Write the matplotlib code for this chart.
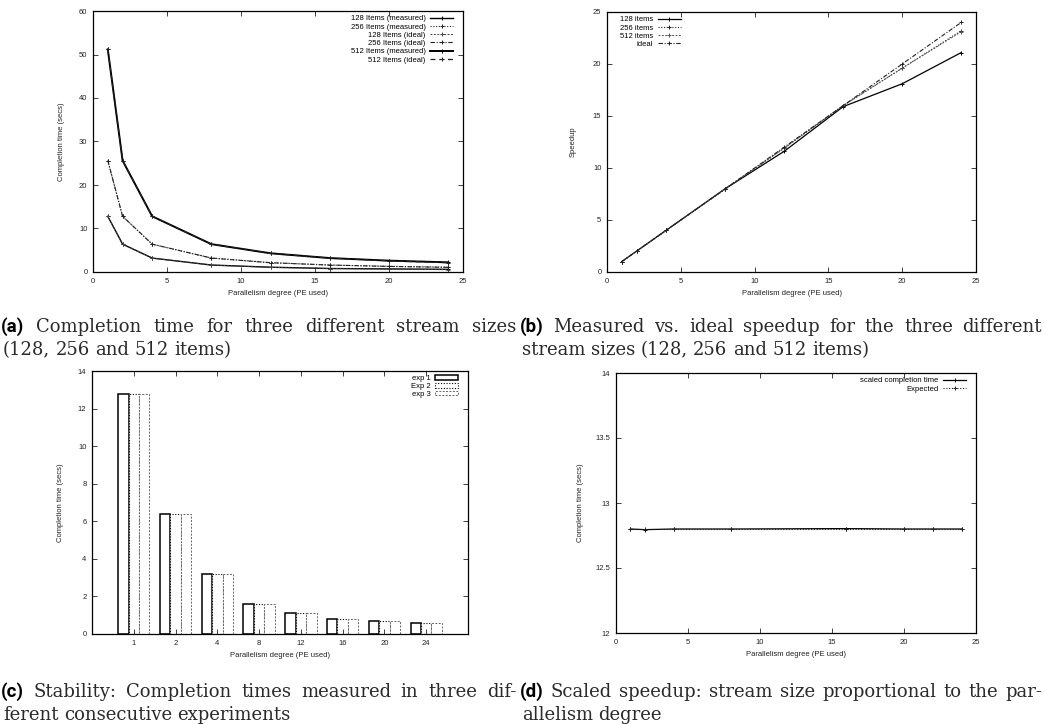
import matplotlib
matplotlib.use("Agg")
import matplotlib.pyplot as plt
from matplotlib.transforms import IdentityTransform
from matplotlib.ticker import FormatStrFormatter

# ---- data -------------------------------------------------------------
pe = [1, 2, 4, 8, 12, 16, 20, 24]

time_128_meas = [12.8, 6.4, 3.2, 1.6, 1.10, 0.80, 0.71, 0.61]
time_256_meas = [25.6, 12.8, 6.4, 3.22, 2.15, 1.60, 1.31, 1.10]
time_512_meas = [51.2, 25.6, 12.8, 6.4, 4.3, 3.2, 2.61, 2.22]
time_128_ideal = [12.8, 6.4, 3.2, 1.6, 1.07, 0.8, 0.64, 0.53]
time_256_ideal = [25.6, 12.8, 6.4, 3.2, 2.13, 1.6, 1.28, 1.07]
time_512_ideal = [51.2, 25.6, 12.8, 6.4, 4.27, 3.2, 2.56, 2.13]

speedup_128 = [1, 2, 4, 8, 11.6, 15.9, 18.1, 21.1]
speedup_256 = [1, 2, 4, 7.95, 11.9, 16.0, 19.6, 23.2]
speedup_512 = [1, 2, 4, 8, 11.9, 16.0, 19.6, 23.1]
speedup_ideal = [1, 2, 4, 8, 12, 16, 20, 24]

exp_labels = ["1", "2", "4", "8", "12", "16", "20", "24"]
exp1 = [12.8, 6.4, 3.2, 1.6, 1.1, 0.8, 0.7, 0.6]
exp2 = [12.8, 6.4, 3.2, 1.6, 1.1, 0.8, 0.7, 0.6]
exp3 = [12.8, 6.4, 3.2, 1.6, 1.1, 0.8, 0.7, 0.6]

pe_scaled = [1, 2, 4, 8, 16, 20, 22, 24]
scaled_time = [12.8, 12.795, 12.8, 12.8, 12.803, 12.8, 12.8, 12.8]
expected_time = [12.8, 12.8, 12.8, 12.8, 12.8, 12.8, 12.8, 12.8]

# ---- style ------------------------------------------------------------
plt.rcParams['font.family'] = ['Liberation Sans', 'DejaVu Sans']
plt.rcParams['font.size'] = 5.5
FS = 5.5

W, H = 1045, 724
fig = plt.figure(figsize=(W / 100, H / 100), dpi=100)


def px_axes(x0, y0, x1, y1):
    return fig.add_axes([x0 / W, 1 - y1 / H, (x1 - x0) / W, (y1 - y0) / H])


def gnuplot_style(ax):
    for s in ax.spines.values():
        s.set_linewidth(0.9)
        s.set_color('black')
    ax.tick_params(direction='in', top=True, right=True, length=3.5, width=0.6,
                   labelsize=FS, pad=4, colors='#222')


def legend(ax, loc, anchor, **kw):
    leg = ax.legend(loc=loc, bbox_to_anchor=anchor, frameon=False, fontsize=FS,
                    markerfirst=False, handlelength=3.0, handletextpad=0.6,
                    labelspacing=0.12, borderpad=0, borderaxespad=0, **kw)
    return leg


mk = dict(marker='+', markersize=3.3, markeredgewidth=0.7)

# ---- (a) completion time ---------------------------------------------
ax = px_axes(93, 11, 463, 272)
ax.plot(pe, time_128_meas, color='black', lw=1.0, label='128 Items (measured)', **mk)
ax.plot(pe, time_256_meas, color='#222', lw=0.8, ls=(0, (1, 1.5)), label='256 Items (measured)', **mk)
ax.plot(pe, time_128_ideal, color='#444', lw=0.7, ls=(0, (2, 1.5)), label='128 Items (ideal)', **mk)
ax.plot(pe, time_256_ideal, color='#222', lw=0.8, ls=(0, (4, 1.5, 1, 1.5)), label='256 Items (ideal)', **mk)
ax.plot(pe, time_512_meas, color='black', lw=1.4, label='512 Items (measured)', **mk)
ax.plot(pe, time_512_ideal, color='#222', lw=0.9, ls=(0, (4, 3)), label='512 Items (ideal)', **mk)
ax.set_xlim(0, 25)
ax.set_ylim(0, 60)
ax.set_xticks(range(0, 26, 5))
ax.set_yticks(range(0, 61, 10))
ax.set_xlabel('Parallelism degree (PE used)', fontsize=FS, labelpad=4, color='#222')
ax.set_ylabel('Completion time (secs)', fontsize=FS, labelpad=10, color='#222')
gnuplot_style(ax)
legend(ax, 'upper right', (1 - 10 / 370, 1 - 4 / 261))

# ---- (b) speedup ------------------------------------------------------
ax = px_axes(607, 12, 976, 272)
ax.plot(pe, speedup_128, color='black', lw=0.9, label='128 items', **mk)
ax.plot(pe, speedup_256, color='#222', lw=0.8, ls=(0, (1, 1.5)), label='256 items', **mk)
ax.plot(pe, speedup_512, color='#555', lw=0.7, ls=(0, (2, 1.5)), label='512 items', **mk)
ax.plot(pe, speedup_ideal, color='#222', lw=0.8, ls=(0, (4, 1.5, 1, 1.5)), label='ideal', **mk)
ax.set_xlim(0, 25)
ax.set_ylim(0, 25)
ax.set_xticks(range(0, 26, 5))
ax.set_yticks(range(0, 26, 5))
ax.set_xlabel('Parallelism degree (PE used)', fontsize=FS, labelpad=4, color='#222')
ax.set_ylabel('Speedup', fontsize=FS, labelpad=12, color='#222')
gnuplot_style(ax)
legend(ax, 'upper left', (13 / 369, 1 - 4 / 260))

# ---- (c) stability bars -----------------------------------------------
ax = px_axes(92, 371, 468, 634)
pos = list(range(1, len(exp_labels) + 1))
bw = 0.25
ax.bar([p - bw for p in pos], exp1, width=bw, facecolor='white', edgecolor='black',
       lw=1.1, label='exp 1')
ax.bar(pos, exp2, width=bw, facecolor='white', edgecolor='black',
       lw=0.8, ls=(0, (1, 1.5)), label='Exp 2')
ax.bar([p + bw for p in pos], exp3, width=bw, facecolor='white', edgecolor='#666',
       lw=0.7, ls=(0, (2, 1.5)), label='exp 3')
ax.set_xlim(0, 9)
ax.set_ylim(0, 14)
ax.set_xticks(pos)
ax.set_xticklabels(exp_labels)
ax.set_yticks(range(0, 15, 2))
ax.set_xlabel('Parallelism degree (PE used)', fontsize=FS, labelpad=4, color='#222')
ax.set_ylabel('Completion time (secs)', fontsize=FS, labelpad=10, color='#222')
gnuplot_style(ax)
legend(ax, 'upper right', (1 - 10 / 376, 1 - 4 / 263), handleheight=0.55)

# ---- (d) scaled speedup ----------------------------------------------
ax = px_axes(616, 373, 976, 633)
ax.plot(pe_scaled, scaled_time, color='black', lw=0.9, label='scaled completion time', **mk)
ax.plot(pe_scaled, expected_time, color='#222', lw=0.8, ls=(0, (1, 1.5)), label='Expected', **mk)
ax.set_xlim(0, 25)
ax.set_ylim(12, 14)
ax.set_xticks(range(0, 26, 5))
ax.set_yticks([12, 12.5, 13, 13.5, 14])
ax.yaxis.set_major_formatter(FormatStrFormatter('%g'))
ax.set_xlabel('Parallelism degree (PE used)', fontsize=FS, labelpad=4, color='#222')
ax.set_ylabel('Completion time (secs)', fontsize=FS, labelpad=8, color='#222')
gnuplot_style(ax)
legend(ax, 'upper right', (1 - 10 / 360, 1 - 4 / 260))

# ---- captions ---------------------------------------------------------
CAP_FS = 13
serif = dict(family='DejaVu Serif', size=CAP_FS, color='#2a2a2a')
label_font = dict(family='Roboto', weight='bold', size=CAP_FS + 0.5, color='black')
renderer = fig.canvas.get_renderer()


def caption_line(x0, x1, y_top, words, justify):
    # words: list of (text, font dict); y_top = baseline in pixels from top
    y = H - y_top
    texts = [fig.text(0, 0, w, transform=IdentityTransform(), va='baseline',
                      ha='left', **f) for w, f in words]
    widths = [t.get_window_extent(renderer).width for t in texts]
    if justify and len(texts) > 1:
        gap = (x1 - x0 - sum(widths)) / (len(texts) - 1)
    else:
        gap = 0.3 * CAP_FS * 100 / 72
    x = x0
    for t, w in zip(texts, widths):
        t.set_position((x, y))
        x += w + gap


def caption(x0, x1, y0, label, line1, line2):
    words = [(label, label_font)] + [(w, serif) for w in line1.split()]
    caption_line(x0, x1, y0, words, True)
    caption_line(x0 + 2, x1, y0 + 23, [(w, serif) for w in line2.split()], False)


caption(1, 516, 332, '(a)', 'Completion time for three different stream sizes',
        '(128, 256 and 512 items)')
caption(520, 1042, 332, '(b)', 'Measured vs. ideal speedup for the three different',
        'stream sizes (128, 256 and 512 items)')
caption(1, 516, 697, '(c)', 'Stability: Completion times measured in three dif-',
        'ferent consecutive experiments')
caption(520, 1042, 697, '(d)', 'Scaled speedup: stream size proportional to the par-',
        'allelism degree')

fig.savefig('out.png', dpi=100)
